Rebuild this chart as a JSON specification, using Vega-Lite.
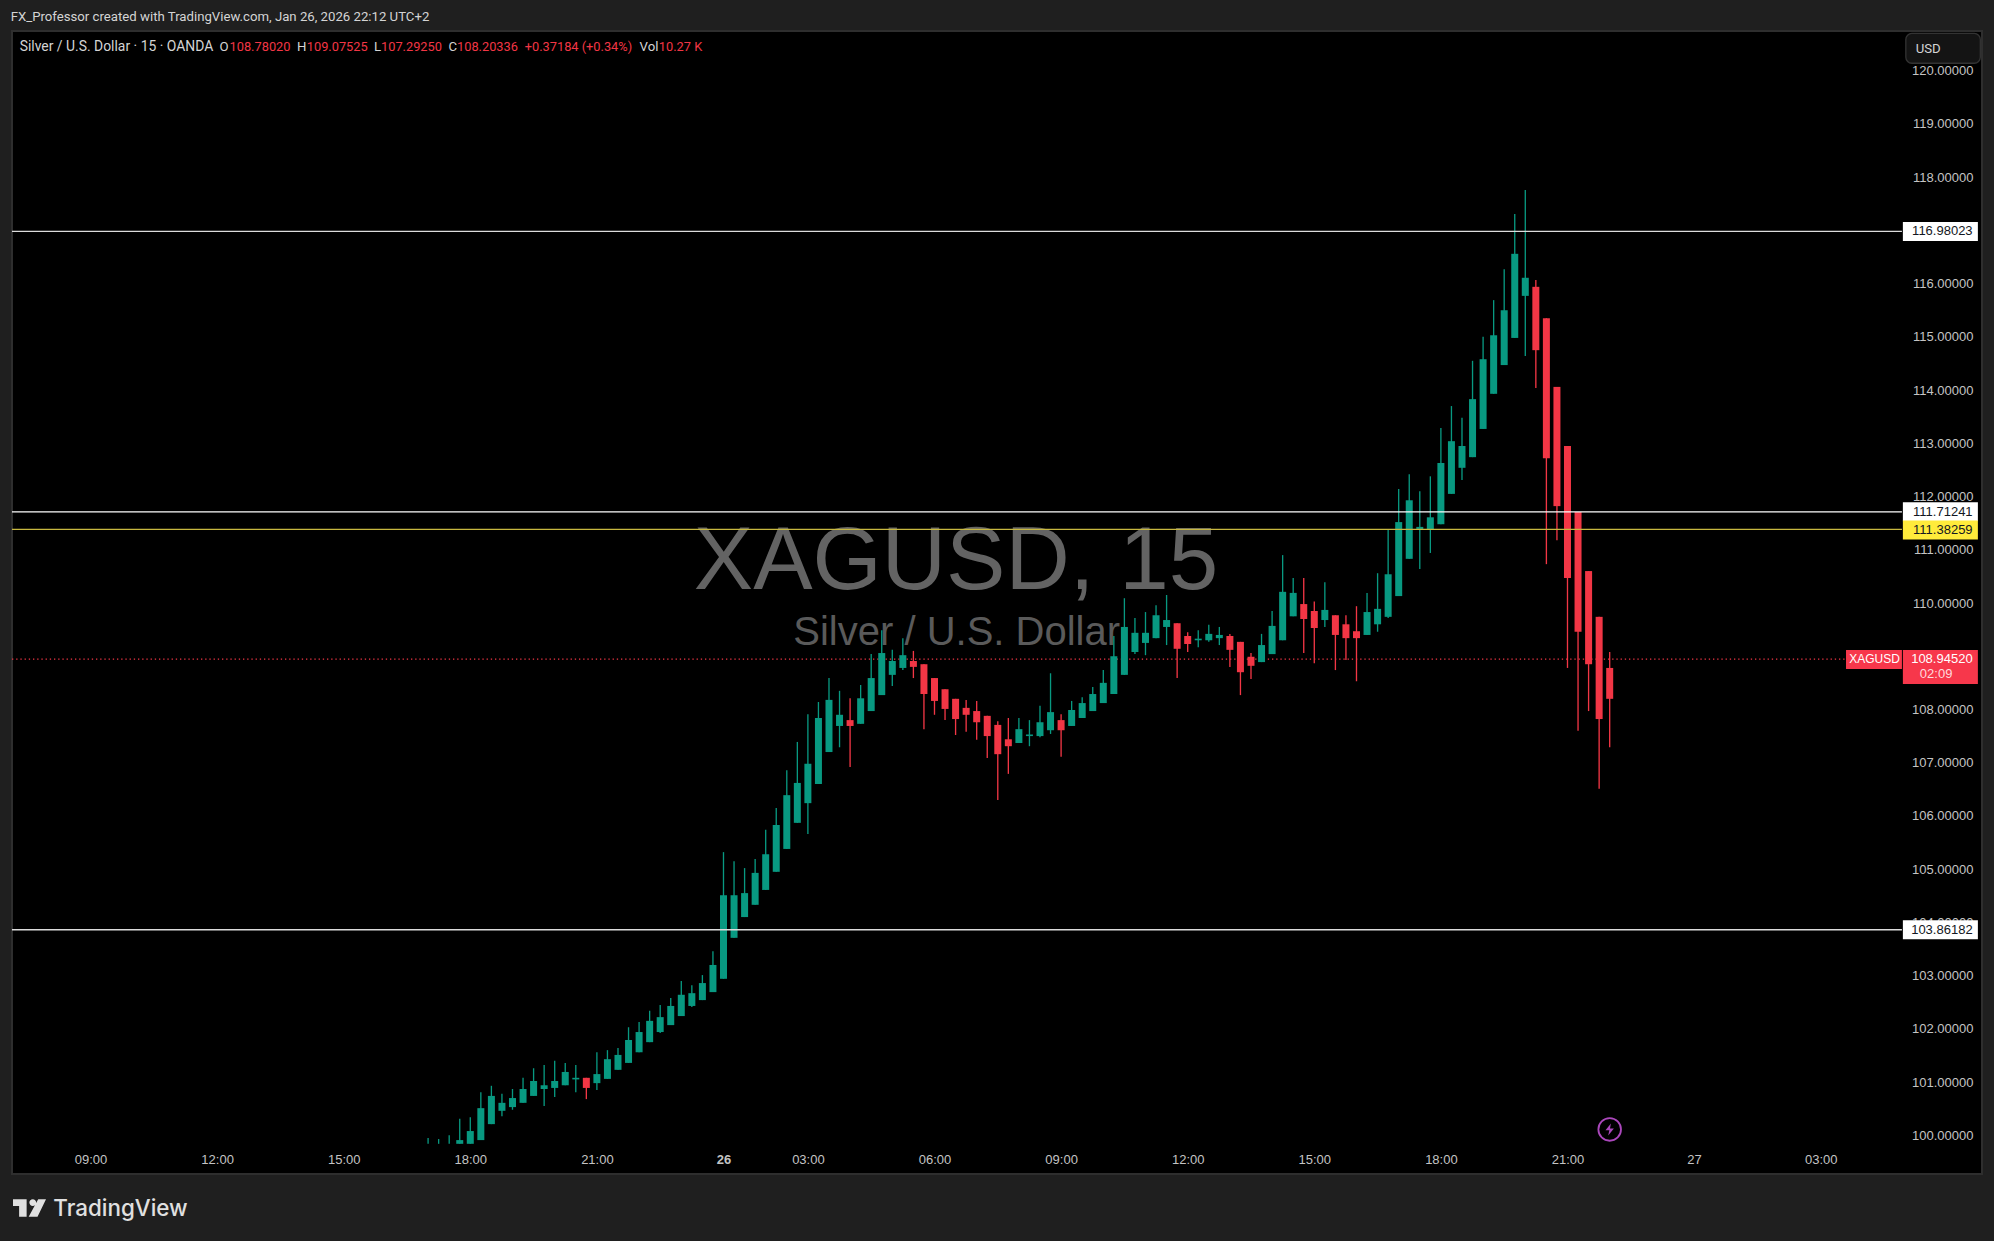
{
  "$schema": "https://vega.github.io/schema/vega-lite/v6.json",
  "description": "Silver / U.S. Dollar, 15 minute candles, Jan 25-26 2026",
  "width": 1970,
  "height": 1143,
  "autosize": "none",
  "padding": {"left": 12, "top": 31, "right": 12, "bottom": 67},
  "background": "#1F1F1F",
  "view": {"fill": "#000000", "stroke": "#2E2E2E", "strokeWidth": 2},
  "datasets": {
    "single": [{}],
    "levels": [{"price": 116.98023, "label": "116.98023"}, {"price": 111.71241, "label": "111.71241"}, {"price": 103.86182, "label": "103.86182"}],
    "candles": [
      {"i": -4, "o": 99.84, "h": 99.95, "l": 99.84, "c": 99.84},
      {"i": -3, "o": 99.84, "h": 99.93, "l": 99.84, "c": 99.84},
      {"i": -2, "o": 99.84, "h": 100.0, "l": 99.84, "c": 99.84},
      {"i": -1, "o": 99.84, "h": 100.31, "l": 99.84, "c": 99.91},
      {"i": 0, "o": 99.84, "h": 100.34, "l": 99.84, "c": 100.08},
      {"i": 1, "o": 99.91, "h": 100.81, "l": 99.91, "c": 100.51},
      {"i": 2, "o": 100.21, "h": 100.93, "l": 100.21, "c": 100.74},
      {"i": 3, "o": 100.46, "h": 100.78, "l": 100.36, "c": 100.61},
      {"i": 4, "o": 100.53, "h": 100.87, "l": 100.48, "c": 100.7},
      {"i": 5, "o": 100.61, "h": 101.08, "l": 100.61, "c": 100.87},
      {"i": 6, "o": 100.74, "h": 101.26, "l": 100.74, "c": 101.02},
      {"i": 7, "o": 100.87, "h": 101.32, "l": 100.55, "c": 100.94},
      {"i": 8, "o": 100.89, "h": 101.4, "l": 100.72, "c": 101.02},
      {"i": 9, "o": 100.94, "h": 101.36, "l": 100.94, "c": 101.19},
      {"i": 10, "o": 101.05, "h": 101.32, "l": 100.81, "c": 101.08},
      {"i": 11, "o": 101.08, "h": 101.08, "l": 100.68, "c": 100.89},
      {"i": 12, "o": 100.98, "h": 101.56, "l": 100.85, "c": 101.15},
      {"i": 13, "o": 101.06, "h": 101.6, "l": 101.06, "c": 101.43},
      {"i": 14, "o": 101.23, "h": 101.64, "l": 101.23, "c": 101.51},
      {"i": 15, "o": 101.36, "h": 102.03, "l": 101.36, "c": 101.79},
      {"i": 16, "o": 101.56, "h": 102.13, "l": 101.56, "c": 101.94},
      {"i": 17, "o": 101.75, "h": 102.34, "l": 101.75, "c": 102.15},
      {"i": 18, "o": 101.94, "h": 102.45, "l": 101.92, "c": 102.22},
      {"i": 19, "o": 102.07, "h": 102.58, "l": 102.07, "c": 102.43},
      {"i": 20, "o": 102.24, "h": 102.9, "l": 102.24, "c": 102.64},
      {"i": 21, "o": 102.43, "h": 102.82, "l": 102.41, "c": 102.67},
      {"i": 22, "o": 102.54, "h": 103.01, "l": 102.54, "c": 102.86},
      {"i": 23, "o": 102.69, "h": 103.46, "l": 102.69, "c": 103.2},
      {"i": 24, "o": 102.94, "h": 105.32, "l": 102.94, "c": 104.51},
      {"i": 25, "o": 103.71, "h": 105.15, "l": 103.71, "c": 104.51},
      {"i": 26, "o": 104.1, "h": 105.02, "l": 104.1, "c": 104.55},
      {"i": 27, "o": 104.33, "h": 105.19, "l": 104.33, "c": 104.93},
      {"i": 28, "o": 104.61, "h": 105.74, "l": 104.61, "c": 105.28},
      {"i": 29, "o": 104.95, "h": 106.15, "l": 104.95, "c": 105.83},
      {"i": 30, "o": 105.38, "h": 106.86, "l": 105.38, "c": 106.39},
      {"i": 31, "o": 105.87, "h": 107.39, "l": 105.87, "c": 106.62},
      {"i": 32, "o": 106.24, "h": 107.91, "l": 105.66, "c": 106.98},
      {"i": 33, "o": 106.6, "h": 108.14, "l": 106.6, "c": 107.84},
      {"i": 34, "o": 107.2, "h": 108.59, "l": 107.2, "c": 108.18},
      {"i": 35, "o": 107.69, "h": 108.35, "l": 107.29, "c": 107.9},
      {"i": 36, "o": 107.8, "h": 108.21, "l": 106.92, "c": 107.69},
      {"i": 37, "o": 107.73, "h": 108.46, "l": 107.73, "c": 108.21},
      {"i": 38, "o": 107.97, "h": 109.04, "l": 107.97, "c": 108.59},
      {"i": 39, "o": 108.27, "h": 109.49, "l": 108.27, "c": 109.06},
      {"i": 40, "o": 108.65, "h": 109.12, "l": 108.44, "c": 108.91},
      {"i": 41, "o": 108.78, "h": 109.34, "l": 108.74, "c": 109.02},
      {"i": 42, "o": 108.91, "h": 109.1, "l": 108.59, "c": 108.8},
      {"i": 43, "o": 108.85, "h": 108.85, "l": 107.63, "c": 108.29},
      {"i": 44, "o": 108.59, "h": 108.59, "l": 107.9, "c": 108.16},
      {"i": 45, "o": 108.38, "h": 108.38, "l": 107.8, "c": 108.01},
      {"i": 46, "o": 108.2, "h": 108.2, "l": 107.52, "c": 107.82},
      {"i": 47, "o": 108.03, "h": 108.18, "l": 107.58, "c": 107.9},
      {"i": 48, "o": 107.97, "h": 108.16, "l": 107.43, "c": 107.76},
      {"i": 49, "o": 107.88, "h": 107.88, "l": 107.09, "c": 107.5},
      {"i": 50, "o": 107.71, "h": 107.78, "l": 106.3, "c": 107.16},
      {"i": 51, "o": 107.44, "h": 107.84, "l": 106.79, "c": 107.31},
      {"i": 52, "o": 107.37, "h": 107.84, "l": 107.37, "c": 107.63},
      {"i": 53, "o": 107.5, "h": 107.8, "l": 107.31, "c": 107.53},
      {"i": 54, "o": 107.5, "h": 108.07, "l": 107.48, "c": 107.76},
      {"i": 55, "o": 107.61, "h": 108.68, "l": 107.54, "c": 107.95},
      {"i": 56, "o": 107.8, "h": 107.91, "l": 107.11, "c": 107.61},
      {"i": 57, "o": 107.69, "h": 108.16, "l": 107.69, "c": 107.99},
      {"i": 58, "o": 107.84, "h": 108.23, "l": 107.84, "c": 108.12},
      {"i": 59, "o": 107.97, "h": 108.42, "l": 107.97, "c": 108.29},
      {"i": 60, "o": 108.12, "h": 108.74, "l": 108.12, "c": 108.5},
      {"i": 61, "o": 108.29, "h": 109.38, "l": 108.29, "c": 109.0},
      {"i": 62, "o": 108.65, "h": 110.09, "l": 108.65, "c": 109.55},
      {"i": 63, "o": 109.08, "h": 109.72, "l": 109.04, "c": 109.44},
      {"i": 64, "o": 109.25, "h": 109.83, "l": 109.02, "c": 109.44},
      {"i": 65, "o": 109.34, "h": 109.96, "l": 109.34, "c": 109.77},
      {"i": 66, "o": 109.55, "h": 110.15, "l": 109.21, "c": 109.68},
      {"i": 67, "o": 109.62, "h": 109.62, "l": 108.59, "c": 109.14},
      {"i": 68, "o": 109.38, "h": 109.45, "l": 109.08, "c": 109.23},
      {"i": 69, "o": 109.3, "h": 109.49, "l": 109.17, "c": 109.33},
      {"i": 70, "o": 109.3, "h": 109.59, "l": 109.27, "c": 109.42},
      {"i": 71, "o": 109.34, "h": 109.55, "l": 109.21, "c": 109.4},
      {"i": 72, "o": 109.38, "h": 109.42, "l": 108.8, "c": 109.12},
      {"i": 73, "o": 109.27, "h": 109.27, "l": 108.27, "c": 108.7},
      {"i": 74, "o": 108.99, "h": 109.06, "l": 108.57, "c": 108.82},
      {"i": 75, "o": 108.89, "h": 109.42, "l": 108.89, "c": 109.21},
      {"i": 76, "o": 109.04, "h": 109.85, "l": 109.04, "c": 109.57},
      {"i": 77, "o": 109.3, "h": 110.9, "l": 109.3, "c": 110.21},
      {"i": 78, "o": 109.75, "h": 110.47, "l": 109.75, "c": 110.19},
      {"i": 79, "o": 109.98, "h": 110.47, "l": 109.06, "c": 109.7},
      {"i": 80, "o": 109.85, "h": 110.03, "l": 108.87, "c": 109.53},
      {"i": 81, "o": 109.68, "h": 110.39, "l": 109.55, "c": 109.87},
      {"i": 82, "o": 109.77, "h": 109.77, "l": 108.74, "c": 109.4},
      {"i": 83, "o": 109.6, "h": 109.77, "l": 108.93, "c": 109.34},
      {"i": 84, "o": 109.47, "h": 109.94, "l": 108.53, "c": 109.34},
      {"i": 85, "o": 109.4, "h": 110.19, "l": 109.4, "c": 109.83},
      {"i": 86, "o": 109.6, "h": 110.56, "l": 109.46, "c": 109.89},
      {"i": 87, "o": 109.74, "h": 111.38, "l": 109.72, "c": 110.54},
      {"i": 88, "o": 110.13, "h": 112.14, "l": 110.13, "c": 111.52},
      {"i": 89, "o": 110.83, "h": 112.42, "l": 110.83, "c": 111.93},
      {"i": 90, "o": 111.38, "h": 112.1, "l": 110.64, "c": 111.43},
      {"i": 91, "o": 111.38, "h": 112.38, "l": 110.94, "c": 111.61},
      {"i": 92, "o": 111.48, "h": 113.29, "l": 111.48, "c": 112.63},
      {"i": 93, "o": 112.05, "h": 113.7, "l": 112.05, "c": 113.04},
      {"i": 94, "o": 112.54, "h": 113.48, "l": 112.31, "c": 112.95},
      {"i": 95, "o": 112.74, "h": 114.55, "l": 112.74, "c": 113.83},
      {"i": 96, "o": 113.27, "h": 115.0, "l": 113.27, "c": 114.58},
      {"i": 97, "o": 113.93, "h": 115.69, "l": 113.93, "c": 115.03},
      {"i": 98, "o": 114.47, "h": 116.27, "l": 114.47, "c": 115.5},
      {"i": 99, "o": 114.98, "h": 117.31, "l": 114.98, "c": 116.56},
      {"i": 100, "o": 115.77, "h": 117.76, "l": 114.64, "c": 116.11},
      {"i": 101, "o": 115.94, "h": 116.07, "l": 114.04, "c": 114.75},
      {"i": 102, "o": 115.35, "h": 115.35, "l": 110.73, "c": 112.72},
      {"i": 103, "o": 114.06, "h": 114.06, "l": 111.18, "c": 111.82},
      {"i": 104, "o": 112.95, "h": 112.95, "l": 108.78, "c": 110.47},
      {"i": 105, "o": 111.71, "h": 111.71, "l": 107.6, "c": 109.46},
      {"i": 106, "o": 110.6, "h": 110.6, "l": 107.97, "c": 108.85},
      {"i": 107, "o": 109.74, "h": 109.74, "l": 106.51, "c": 107.82},
      {"i": 108, "o": 108.78, "h": 109.08, "l": 107.29, "c": 108.2}
    ]
  },
  "data": {"name": "single"},
  "layer": [
    {
      "mark": {"type": "text", "align": "center", "baseline": "alphabetic", "fontSize": 89, "color": "#636363"},
      "encoding": {
        "x": {
          "datum": 46.04,
          "type": "quantitative",
          "scale": {"domain": [-43.44, 143.29], "nice": false, "zero": false, "padding": 0},
          "title": null,
          "axis": {
            "values": [-36, -24, -12, 0, 12, 24, 32, 44, 56, 68, 80, 92, 104, 116, 128],
            "labelExpr": "{'-36':'09:00','-24':'12:00','-12':'15:00','0':'18:00','12':'21:00','24':'26','32':'03:00','44':'06:00','56':'09:00','68':'12:00','80':'15:00','92':'18:00','104':'21:00','116':'27','128':'03:00'}[datum.value]",
            "labelFontWeight": {"condition": {"test": "datum.value == 24", "value": "bold"}, "value": "normal"},
            "labelColor": "#C4C4C4",
            "labelFontSize": 13,
            "labelFont": "Liberation Sans",
            "labelBaseline": "middle",
            "labelPadding": -15,
            "labelOverlap": false,
            "labelBound": false,
            "labelFlush": false,
            "ticks": false,
            "domain": false,
            "grid": false,
            "title": null
          }
        },
        "y": {
          "datum": 110.26,
          "type": "quantitative",
          "scale": {"domain": [99.273, 120.746], "nice": false, "zero": false, "padding": 0},
          "title": null,
          "axis": {
            "orient": "right",
            "values": [100, 101, 102, 103, 104, 105, 106, 107, 108, 110, 111, 112, 113, 114, 115, 116, 118, 119, 120],
            "format": ".5f",
            "labelColor": "#C4C4C4",
            "labelFontSize": 13,
            "labelFont": "Liberation Sans",
            "labelAlign": "right",
            "labelBaseline": "middle",
            "labelPadding": -9,
            "labelOverlap": false,
            "labelBound": false,
            "ticks": false,
            "domain": false,
            "grid": false,
            "title": null
          }
        },
        "text": {"value": "XAGUSD, 15"}
      }
    },
    {
      "mark": {"type": "text", "align": "center", "baseline": "alphabetic", "fontSize": 40, "color": "#5A5A5A"},
      "encoding": {
        "x": {"datum": 46.1, "type": "quantitative"},
        "y": {"datum": 109.21, "type": "quantitative"},
        "text": {"value": "Silver / U.S. Dollar"}
      }
    },
    {
      "mark": {"type": "rule", "color": "#F23645", "strokeWidth": 1.33, "strokeDash": [1.3, 2.9]},
      "encoding": {
        "x": {"datum": -43.44, "type": "quantitative"},
        "x2": {"datum": 130.4},
        "y": {"datum": 108.9452, "type": "quantitative"}
      }
    },
    {
      "data": {"name": "candles"},
      "mark": {"type": "rule", "strokeWidth": 1.33},
      "encoding": {
        "x": {"field": "i", "type": "quantitative"},
        "y": {"field": "l", "type": "quantitative"},
        "y2": {"field": "h"},
        "color": {"condition": {"test": "datum.c >= datum.o", "value": "#089981"}, "value": "#F23645"}
      }
    },
    {
      "data": {"name": "candles"},
      "mark": {"type": "bar", "size": 7, "orient": "vertical"},
      "encoding": {
        "x": {"field": "i", "type": "quantitative"},
        "y": {"field": "o", "type": "quantitative"},
        "y2": {"field": "c"},
        "color": {"condition": {"test": "datum.c >= datum.o", "value": "#089981"}, "value": "#F23645"}
      }
    },
    {
      "data": {"name": "levels"},
      "mark": {"type": "rule", "strokeWidth": 1.33},
      "encoding": {
        "x": {"datum": -43.44, "type": "quantitative"},
        "x2": {"datum": 135.7},
        "y": {"field": "price", "type": "quantitative"},
        "color": {"condition": {"test": "datum.label == '111.71241'", "value": "#FFFFFF"}, "value": "#DCDCDC"}
      }
    },
    {
      "mark": {"type": "rule", "color": "#C8B840", "strokeWidth": 1.33},
      "encoding": {
        "x": {"datum": -43.44, "type": "quantitative"},
        "x2": {"datum": 135.7},
        "y": {"datum": 111.38259, "type": "quantitative"}
      }
    },
    {
      "data": {"name": "levels"},
      "mark": {"type": "rule", "color": "#FFFFFF", "strokeWidth": 19},
      "encoding": {
        "x": {"datum": 135.79, "type": "quantitative"},
        "x2": {"datum": 142.9},
        "y": {"field": "price", "type": "quantitative"}
      }
    },
    {
      "mark": {"type": "rule", "color": "#FFEB3B", "strokeWidth": 19},
      "encoding": {
        "x": {"datum": 135.79, "type": "quantitative"},
        "x2": {"datum": 142.9},
        "y": {"datum": 111.37, "type": "quantitative"}
      }
    },
    {
      "mark": {"type": "rule", "color": "#F7374B", "strokeWidth": 34},
      "encoding": {
        "x": {"datum": 135.79, "type": "quantitative"},
        "x2": {"datum": 142.9},
        "y": {"datum": 108.8, "type": "quantitative"}
      }
    },
    {
      "mark": {"type": "rule", "color": "#F7374B", "strokeWidth": 19},
      "encoding": {
        "x": {"datum": 130.4, "type": "quantitative"},
        "x2": {"datum": 135.7},
        "y": {"datum": 108.94, "type": "quantitative"}
      }
    },
    {
      "data": {"name": "levels"},
      "mark": {"type": "text", "style": "tag", "color": "#131722"},
      "encoding": {
        "x": {"datum": 142.4, "type": "quantitative"},
        "y": {"field": "price", "type": "quantitative"},
        "text": {"field": "label"}
      }
    },
    {
      "mark": {"type": "text", "style": "tag", "color": "#131722"},
      "encoding": {
        "x": {"datum": 142.4, "type": "quantitative"},
        "y": {"datum": 111.37, "type": "quantitative"},
        "text": {"value": "111.38259"}
      }
    },
    {
      "mark": {"type": "text", "style": "tag", "color": "#FFFFFF"},
      "encoding": {
        "x": {"datum": 142.4, "type": "quantitative"},
        "y": {"datum": 108.945, "type": "quantitative"},
        "text": {"value": "108.94520"}
      }
    },
    {
      "mark": {"type": "text", "style": "tag", "align": "left", "color": "#FFD9DD"},
      "encoding": {
        "x": {"datum": 137.4, "type": "quantitative"},
        "y": {"datum": 108.66, "type": "quantitative"},
        "text": {"value": "02:09"}
      }
    },
    {
      "mark": {"type": "text", "style": "tag", "align": "left", "fontSize": 12, "color": "#FFFFFF"},
      "encoding": {
        "x": {"datum": 130.7, "type": "quantitative"},
        "y": {"datum": 108.945, "type": "quantitative"},
        "text": {"value": "XAGUSD"}
      }
    },
    {
      "mark": {"type": "rect", "fill": "#141414", "stroke": "#333333", "strokeWidth": 1.3, "cornerRadius": 6},
      "encoding": {
        "x": {"datum": 136.07, "type": "quantitative"},
        "x2": {"datum": 143.13},
        "y": {"datum": 120.7, "type": "quantitative"},
        "y2": {"datum": 120.14}
      }
    },
    {
      "mark": {"type": "text", "style": "head", "color": "#D4D4D4"},
      "encoding": {
        "x": {"datum": 137, "type": "quantitative"},
        "y": {"datum": 120.33, "type": "quantitative"},
        "text": {"value": "USD"}
      }
    },
    {
      "mark": {"type": "text", "style": "head", "color": "#D4D4D4"},
      "encoding": {
        "x": {"datum": -43.57, "type": "quantitative"},
        "y": {"datum": 120.934, "type": "quantitative"},
        "text": {"value": "FX_Professor created with TradingView.com, Jan 26, 2026 22:12 UTC+2"}
      }
    },
    {
      "mark": {"type": "text", "style": "head", "fontSize": 13.9, "color": "#D4D4D4"},
      "encoding": {
        "x": {"datum": -42.71, "type": "quantitative"},
        "y": {"datum": 120.37, "type": "quantitative"},
        "text": {"value": "Silver / U.S. Dollar · 15 · OANDA"}
      }
    },
    {
      "mark": {"type": "text", "style": "head", "color": "#D4D4D4"},
      "encoding": {
        "x": {"datum": -23.77, "type": "quantitative"},
        "y": {"datum": 120.37, "type": "quantitative"},
        "text": {"value": "O"}
      }
    },
    {
      "mark": {"type": "text", "style": "val", "color": "#F23645"},
      "encoding": {
        "x": {"datum": -22.82, "type": "quantitative"},
        "y": {"datum": 120.37, "type": "quantitative"},
        "text": {"value": "108.78020"}
      }
    },
    {
      "mark": {"type": "text", "style": "head", "color": "#D4D4D4"},
      "encoding": {
        "x": {"datum": -16.43, "type": "quantitative"},
        "y": {"datum": 120.37, "type": "quantitative"},
        "text": {"value": "H"}
      }
    },
    {
      "mark": {"type": "text", "style": "val", "color": "#F23645"},
      "encoding": {
        "x": {"datum": -15.5, "type": "quantitative"},
        "y": {"datum": 120.37, "type": "quantitative"},
        "text": {"value": "109.07525"}
      }
    },
    {
      "mark": {"type": "text", "style": "head", "color": "#D4D4D4"},
      "encoding": {
        "x": {"datum": -9.13, "type": "quantitative"},
        "y": {"datum": 120.37, "type": "quantitative"},
        "text": {"value": "L"}
      }
    },
    {
      "mark": {"type": "text", "style": "val", "color": "#F23645"},
      "encoding": {
        "x": {"datum": -8.46, "type": "quantitative"},
        "y": {"datum": 120.37, "type": "quantitative"},
        "text": {"value": "107.29250"}
      }
    },
    {
      "mark": {"type": "text", "style": "head", "color": "#D4D4D4"},
      "encoding": {
        "x": {"datum": -2.07, "type": "quantitative"},
        "y": {"datum": 120.37, "type": "quantitative"},
        "text": {"value": "C"}
      }
    },
    {
      "mark": {"type": "text", "style": "val", "color": "#F23645"},
      "encoding": {
        "x": {"datum": -1.26, "type": "quantitative"},
        "y": {"datum": 120.37, "type": "quantitative"},
        "text": {"value": "108.20336"}
      }
    },
    {
      "mark": {"type": "text", "style": "val", "color": "#F23645"},
      "encoding": {
        "x": {"datum": 5.16, "type": "quantitative"},
        "y": {"datum": 120.37, "type": "quantitative"},
        "text": {"value": "+0.37184 (+0.34%)"}
      }
    },
    {
      "mark": {"type": "text", "style": "head", "color": "#D4D4D4"},
      "encoding": {
        "x": {"datum": 16.05, "type": "quantitative"},
        "y": {"datum": 120.37, "type": "quantitative"},
        "text": {"value": "Vol"}
      }
    },
    {
      "mark": {"type": "text", "style": "val", "color": "#F23645"},
      "encoding": {
        "x": {"datum": 17.87, "type": "quantitative"},
        "y": {"datum": 120.37, "type": "quantitative"},
        "text": {"value": "10.27 K"}
      }
    },
    {
      "mark": {"type": "point", "shape": "circle", "size": 511, "color": "#AB47BC", "filled": false, "strokeWidth": 1.8, "opacity": 1},
      "encoding": {
        "x": {"datum": 108, "type": "quantitative"},
        "y": {"datum": 100.11, "type": "quantitative"}
      }
    },
    {
      "mark": {"type": "point", "shape": "M0.2,-1 L-0.7,0.15 L-0.05,0.15 L-0.25,1 L0.7,-0.15 L0.05,-0.15 Z", "size": 144, "fill": "#AB47BC", "stroke": null, "filled": true, "opacity": 1},
      "encoding": {
        "x": {"datum": 108, "type": "quantitative"},
        "y": {"datum": 100.11, "type": "quantitative"}
      }
    },
    {
      "mark": {"type": "point", "shape": "M-1,-0.536 L-0.175,-0.536 L-0.175,0.536 L-0.63,0.536 L-0.63,-0.124 L-1,-0.124 Z M-0.01,-0.33 A0.206,0.206 0 1 1 0.402,-0.33 A0.206,0.206 0 1 1 -0.01,-0.33 Z M0.526,-0.536 L1,-0.536 L0.485,0.536 L-0.05,0.536 Z", "size": 1089, "fill": "#E0E0E0", "stroke": null, "filled": true, "opacity": 1},
      "encoding": {
        "x": {"datum": -41.78, "type": "quantitative"},
        "y": {"datum": 98.634, "type": "quantitative"}
      }
    },
    {
      "mark": {"type": "text", "font": "Inter", "fontSize": 22.4, "fontWeight": 500, "align": "left", "baseline": "alphabetic", "color": "#E0E0E0"},
      "encoding": {
        "x": {"datum": -39.52, "type": "quantitative"},
        "y": {"datum": 98.484, "type": "quantitative"},
        "text": {"value": "TradingView"}
      }
    }
  ],
  "config": {
    "font": "Liberation Sans",
    "style": {
      "tag": {"font": "Liberation Sans", "fontSize": 13, "align": "right", "baseline": "middle"},
      "head": {"font": "Roboto", "fontSize": 13.2, "align": "left", "baseline": "alphabetic"},
      "val": {"font": "Roboto", "fontSize": 12.8, "align": "left", "baseline": "alphabetic"}
    }
  }
}
